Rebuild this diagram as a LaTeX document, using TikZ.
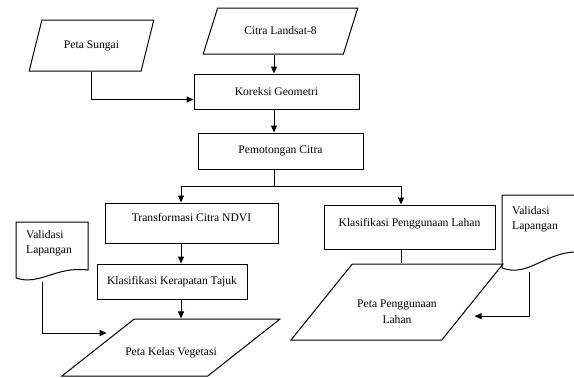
\documentclass[tikz,border=0pt]{standalone}
\usepackage{fontspec}
\setmainfont{Liberation Serif}
\usetikzlibrary{arrows.meta, shapes.geometric, calc}

\begin{document}
\begin{tikzpicture}[
    x=1pt, y=-1pt,
    font=\fontsize{11.6}{15.5}\selectfont,
    proc/.style={rectangle, draw=black, line width=1pt, align=center},
    data/.style={trapezium, trapezium stretches=true, draw=black, line width=1pt, align=center, inner sep=1pt},
    flow/.style={-{Triangle[length=7pt, width=6pt]}, line width=1pt},
    plain/.style={line width=1pt}
]
    \useasboundingbox (0,0) rectangle (574,378);

    % Inputs
    \node[data, trapezium left angle=59, trapezium right angle=121, minimum width=125pt, minimum height=51pt] (sungai) at (91.5,45.5) {Peta Sungai};
    \node[data, trapezium left angle=50, trapezium right angle=130, minimum width=155pt, minimum height=46pt] (landsat) at (280.5,31) {Citra Landsat-8};

    % Processing
    \node[proc, minimum width=165pt, minimum height=35pt] (koreksi) at (276.5,91.5) {Koreksi Geometri};
    \node[proc, minimum width=165pt, minimum height=36pt] (potong) at (280.5,151) {Pemotongan Citra};
    \node[proc, minimum width=173pt, minimum height=40pt, inner ysep=0pt, text height=18pt, text depth=22pt] (ndvi) at (191.5,223) {Transformasi Citra NDVI};
    \node[proc, minimum width=150pt, minimum height=35pt] (tajuk) at (172,281.5) {Klasifikasi Kerapatan Tajuk};
    \node[proc, minimum width=171pt, minimum height=44pt, inner ysep=0pt, text height=21pt, text depth=23pt] (lahan) at (409.5,227) {Klasifikasi Penggunaan Lahan};

    % Outputs
    \node[data, trapezium left angle=45.5, trapezium right angle=134.5, minimum width=218pt, minimum height=57pt] (vege) at (171,347.5) {};
    \node (vegeText) at ([yshift=-5pt]vege.center) {Peta Kelas Vegetasi};
    \node[data, trapezium left angle=55.6, trapezium right angle=124.4, minimum width=212pt, minimum height=76pt] (guna) at (397,302) {};
    \node[align=center] (gunaText) at ([yshift=-10pt]guna.center) {Peta Penggunaan\\Lahan};

    % Field validation
    \draw[plain] (16,278) -- (16,222) -- (88,222) -- (88,270) .. controls (55,266) and (40,286) .. cycle;
    \node[anchor=west, align=left, inner sep=0pt] (valL) at (26,243) {Validasi\\Lapangan};
    \draw[plain] (502,268) -- (502,195) -- (582,195) -- (582,252) .. controls (545,250) and (530,278) .. cycle;
    \node[anchor=west, align=left, inner sep=0pt] (valR) at (512,219) {Validasi\\Lapangan};
    \coordinate (valLout) at (42,282);
    \coordinate (valRout) at (529,272);

    % Columns
    \coordinate (colA) at (274,0);
    \coordinate (colB) at (181,0);
    \coordinate (colC) at (401,0);
    \coordinate (split) at (274,186);

    % Flow
    \draw[flow] (sungai.south) |- ([yshift=-8pt]koreksi.west);
    \draw[flow] (landsat.south -| colA) -- (koreksi.north -| colA);
    \draw[flow] (koreksi.south -| colA) -- (potong.north -| colA);
    \draw[plain] (potong.south -| colA) -- (split);
    \draw[flow] (split) -| (ndvi.north -| colB);
    \draw[flow] (split) -| (lahan.north -| colC);
    \draw[flow] (ndvi.south -| colB) -- (tajuk.north -| colB);
    \draw[flow] (tajuk.south -| colB) -- (vege.north -| colB);
    \draw[plain] (lahan.south -| colC) -- (guna.north -| colC);
    \draw[flow] (valLout) |- ($(vege.top left corner)!0.25!(vege.bottom left corner)+(-9,0)$);
    \draw[flow] (valRout) |- ($(guna.top right corner)!0.684!(guna.bottom right corner)+(13,0)$);
\end{tikzpicture}
\end{document}
